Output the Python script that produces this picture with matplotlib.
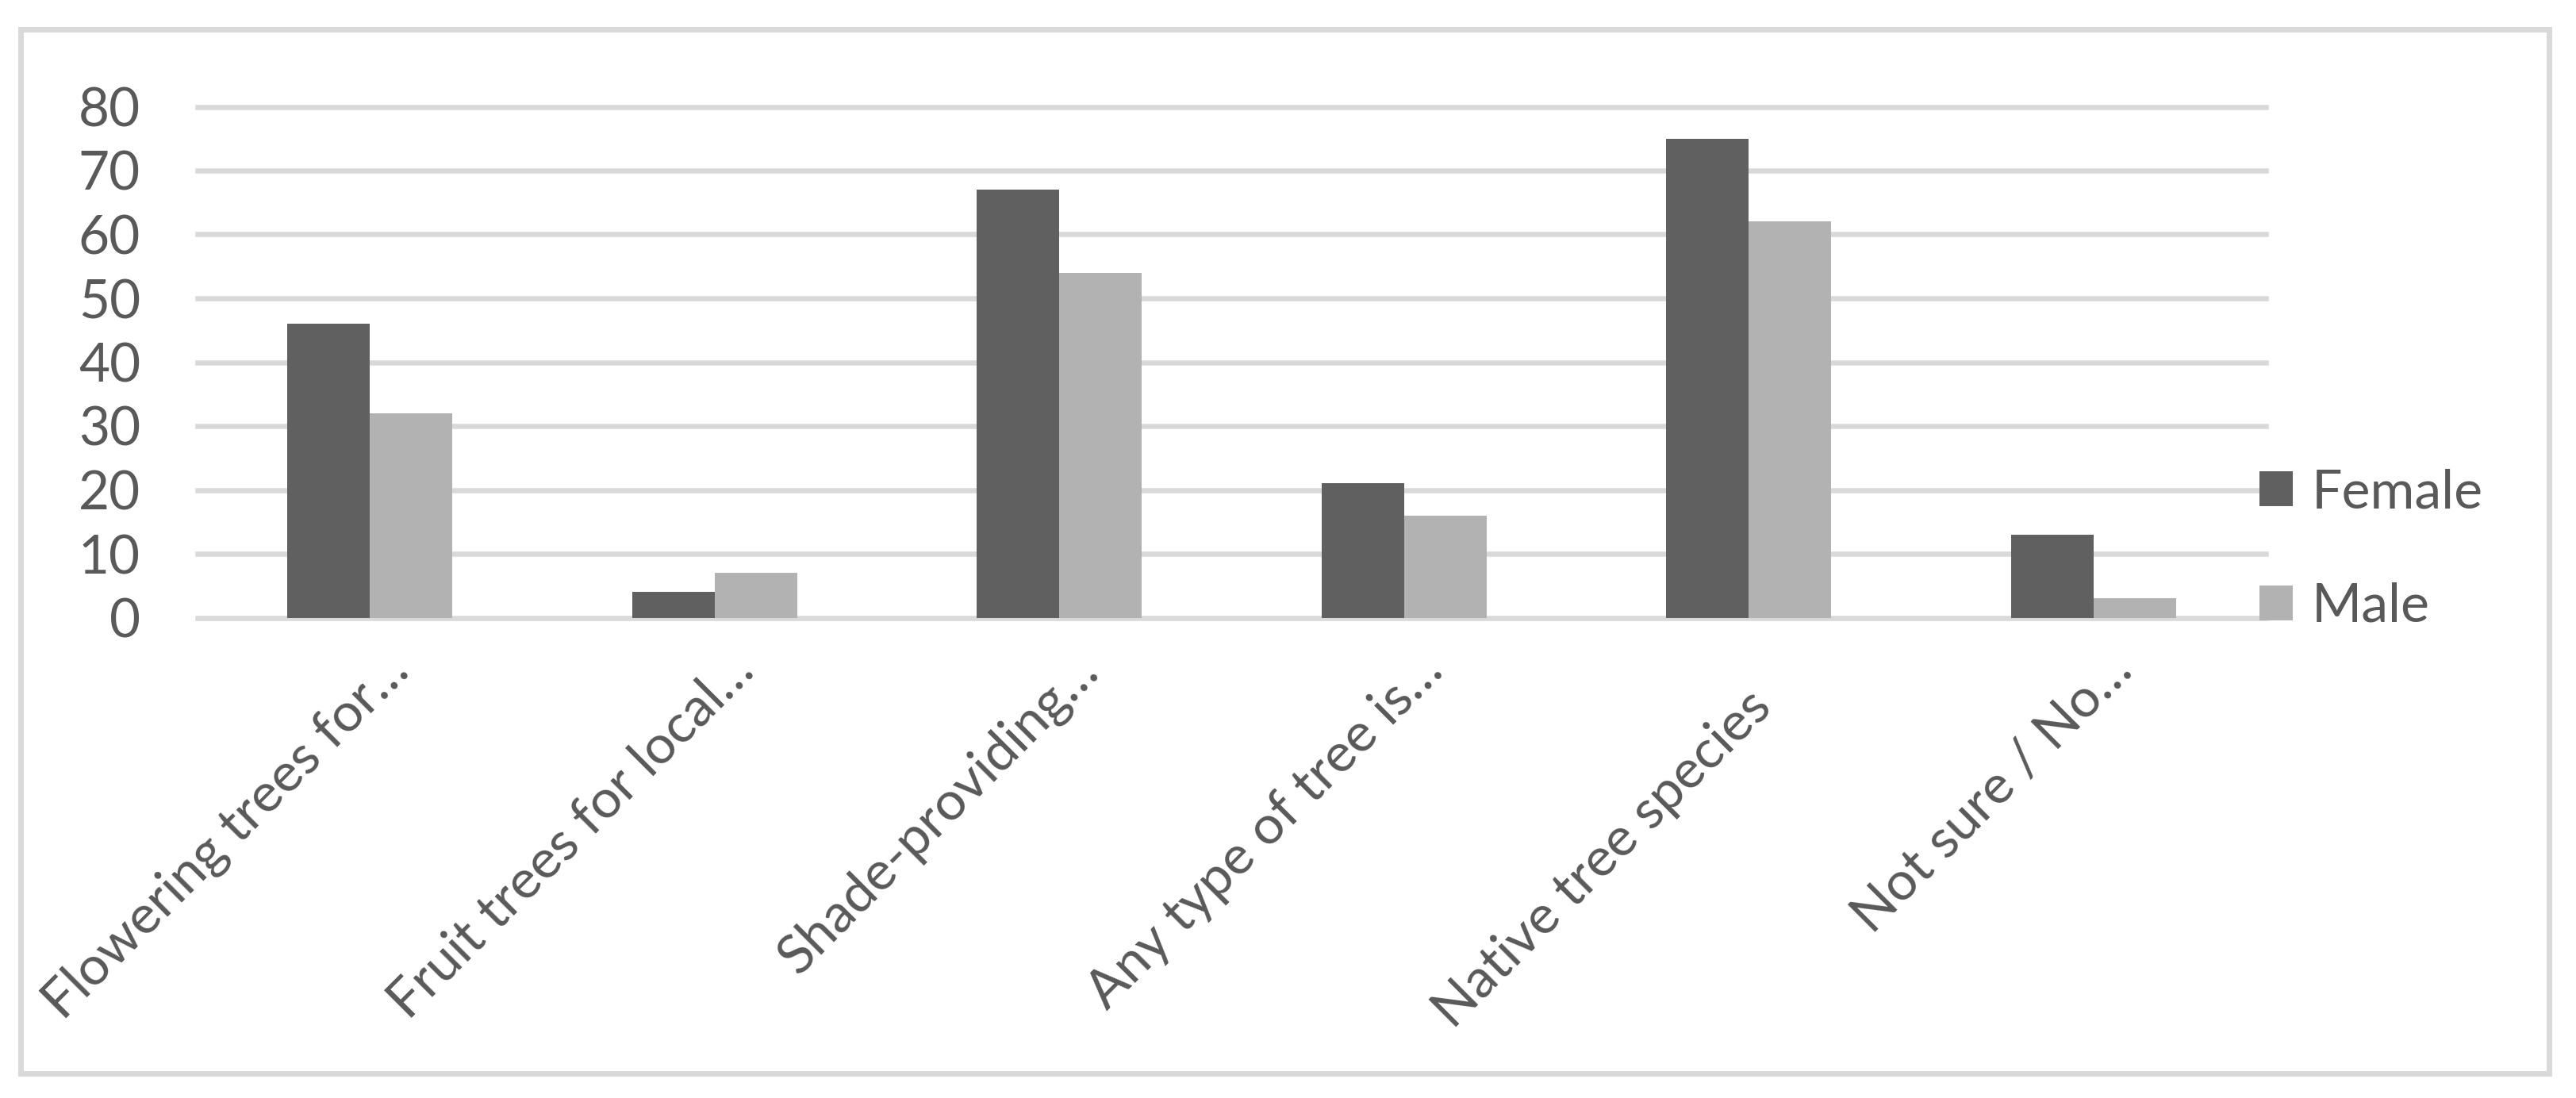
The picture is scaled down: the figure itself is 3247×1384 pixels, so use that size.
import matplotlib
matplotlib.use("Agg")
import matplotlib.pyplot as plt
import matplotlib.transforms as mtransforms
from matplotlib.patches import Rectangle
import numpy as np

categories = ["Flowering trees for…", "Fruit trees for local…", "Shade-providing…",
              "Any type of tree is…", "Native tree species", "Not sure / No…"]
female = [46, 4, 67, 21, 75, 13]
male = [32, 7, 54, 16, 62, 3]
yticks = [0, 10, 20, 30, 40, 50, 60, 70, 80]

DPI = 200
W, H = 3248, 1384
TXT = "#595959"
GRID = "#d9d9d9"
plt.rcParams["font.family"] = ["Lato", "DejaVu Sans"]

fig = plt.figure(figsize=(W / DPI, H / DPI), dpi=DPI)
fig.patch.set_facecolor("white")

# plot area in pixels of the reference
left, right, top, bottom = 249, 2856, 134.5, 778.5
ax = fig.add_axes([left / W, 1 - bottom / H, (right - left) / W, (bottom - top) / H])

x = np.arange(len(categories))
bw = 104 / ((right - left) / len(categories))
b1 = ax.bar(x - bw / 2, female, bw, color="#606060", label="Female", zorder=2)
b2 = ax.bar(x + bw / 2, male, bw, color="#b2b2b2", label="Male", zorder=2)

ax.set_xlim(-0.5, len(categories) - 0.5)
ax.set_ylim(0, 80)
ax.set_yticks(yticks)
ax.yaxis.grid(True, color=GRID, linewidth=2.34, zorder=1)
ax.set_axisbelow(True)
for gl in ax.get_ygridlines():
    gl.set_clip_on(False)
for s in ax.spines.values():
    s.set_visible(False)
ax.tick_params(axis="y", length=0, pad=25.9, labelsize=24.3, labelcolor=TXT)
ax.set_xticks([])

# rotated category labels
for i, lab in enumerate(categories):
    if lab.endswith("…"):
        dx, dy = 52, 70
    else:
        dx, dy = 31, 116
    tr = ax.transData + mtransforms.ScaledTranslation(dx / DPI, -dy / DPI, fig.dpi_scale_trans)
    ax.text(i, 0, lab, rotation=45, rotation_mode="anchor", ha="right", va="baseline",
            fontsize=24.5, color=TXT, transform=tr, clip_on=False)

leg = fig.legend(handles=[b1, b2], labels=["Female", "Male"], loc="center left",
                 bbox_to_anchor=(2848 / W, 1 - 693 / H), frameon=False, fontsize=24.5,
                 handlelength=0.62, handleheight=0.62, handletextpad=0.35,
                 labelspacing=1.2, borderpad=0, borderaxespad=0)
for t in leg.get_texts():
    t.set_color(TXT)

# chart border
fig.patches.append(Rectangle((26.5 / W, 1 - 1353 / H), (3213.5 - 26.5) / W, (1353 - 37) / H,
                             transform=fig.transFigure, fill=False, edgecolor=GRID,
                             linewidth=2.52))

fig.savefig("out.png", dpi=DPI)
